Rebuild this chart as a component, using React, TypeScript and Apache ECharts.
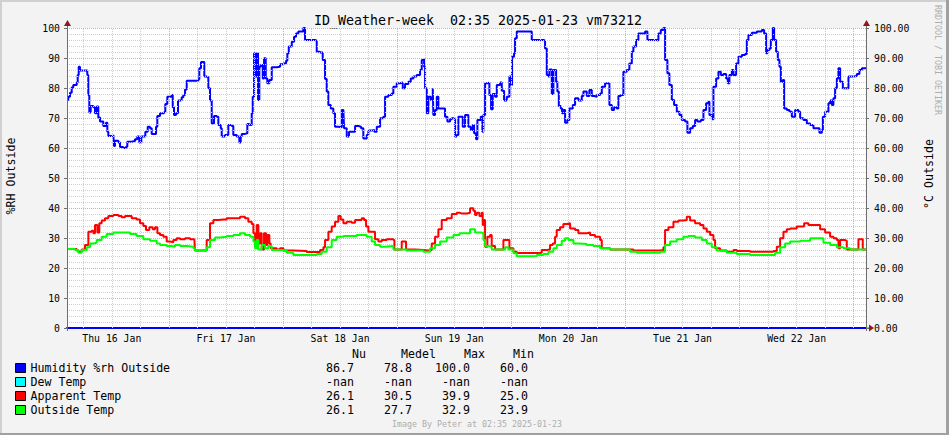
import React, { useEffect, useRef } from 'react';
import * as echarts from 'echarts';

// Graph covers one week, starting 02:35 Thu 16 Jan 2025 (x values: hours since start)
const GRAPH_START_CLOCK = 2 + 35 / 60;
const GRAPH_HOURS = 168;

const dayLabels = ['Thu 16 Jan', 'Fri 17 Jan', 'Sat 18 Jan', 'Sun 19 Jan', 'Mon 20 Jan', 'Tue 21 Jan', 'Wed 22 Jan'];

const humidity: [number, number][] = [
  [0,76],[0.27,77.1],[0.63,78.4],[0.99,80.2],[1.32,81],[2.04,81.8],[2.25,84.3],[2.46,87.1],[2.73,85.8],[4.0,85.8],[4.27,84.3],[4.48,77.7],[4.69,71.8],[4.98,74],[5.53,73.6],[5.89,71.6],[6.25,73.8],[6.58,70.2],[6.94,68.8],[7.63,67.3],[8.2,68.4],[8.48,65.4],[8.69,64],[9.74,64.4],[9.88,60.7],[10.09,62.4],[10.79,61.8],[11.15,60.3],[11.84,60],[12.41,60.4],[12.68,62.1],[13.61,62.3],[14.3,62.9],[14.78,63.8],[15.2,61.8],[15.63,63.8],[16.19,63.8],[16.47,65.4],[16.97,67.1],[17.45,66.6],[17.81,64.7],[18.51,64.7],[18.72,67.1],[18.99,70.7],[19.56,71.6],[20.4,71.9],[20.67,74.7],[21.09,77.1],[22.02,77.7],[22.23,73.6],[22.5,71],[22.92,71.6],[23.34,75.8],[23.76,76],[24.12,76.9],[24.46,77.7],[24.82,79.5],[25.17,82.4],[27.61,82.9],[27.82,86.6],[28.18,88.7],[28.66,88.7],[28.87,83.8],[29.38,83.6],[29.72,79.9],[30.07,75.8],[30.43,68.2],[30.91,70.7],[31.48,70.4],[31.82,67.7],[32.32,66.6],[32.53,63.8],[33.23,64.3],[33.92,67.7],[34.64,67.3],[34.97,64.3],[35.69,63.8],[36.24,61.8],[36.53,63.8],[36.74,64.7],[37.43,64.9],[37.92,68],[38.34,67.7],[38.84,71.6],[39.05,77.1],[39.33,91.6],[39.6,83.8],[39.89,91.6],[40.17,76],[40.44,87.1],[40.74,87.7],[41.16,83.2],[41.43,89.9],[41.79,83.2],[42.12,81.6],[42.54,82.7],[43.05,86.9],[44.1,87.1],[44.79,87.9],[45.49,88.2],[46.06,89.1],[46.33,91.6],[46.63,93.8],[47.26,95.4],[47.74,97.1],[48.16,98.2],[48.64,98.8],[49.36,98.8],[49.69,100],[50.05,96],[52.15,95.8],[52.51,92.1],[53.21,91.8],[53.77,89.3],[54.26,83],[54.61,78.8],[54.95,74.3],[55.46,73.2],[56,71.6],[56.36,67.1],[57.05,66.9],[57.77,72.7],[58.11,72.7],[58.25,66.6],[58.82,63.8],[59.3,65.4],[59.87,65.4],[60.57,67.3],[61.26,67.1],[61.83,66.6],[62.31,63.2],[63.03,64.3],[63.36,65.8],[64.08,66],[64.63,65.4],[65.13,67.1],[65.83,69.9],[66.52,70.4],[66.88,77.1],[67.57,77.7],[68.29,78.2],[68.62,80.4],[69.34,81.6],[70.03,81.8],[70.6,79.9],[71.08,81.3],[71.78,82.1],[72.28,83.2],[72.83,83.8],[73.54,84.3],[74.24,86],[74.59,89.3],[74.93,89.6],[75.08,87.1],[75.29,79.9],[75.65,71.6],[75.98,77.1],[76.49,76],[76.91,79.9],[77.03,71],[77.39,72.7],[77.75,77.1],[78.09,73.2],[78.8,73.2],[79.49,70.4],[79.98,68.8],[80.54,69.6],[80.9,69.9],[81.6,63.8],[81.95,64.3],[82.29,70.4],[83,70.4],[83.21,67.1],[83.7,71],[84.06,71],[84.39,67.1],[84.9,66],[85.32,67.7],[85.59,64.9],[86.01,62.9],[86.29,69.3],[87,70.4],[87.34,65.4],[87.55,71],[87.91,81.6],[88.39,81.8],[88.81,77.7],[89.17,72.9],[89.52,78],[90.01,77.1],[90.37,81],[91.06,81.8],[91.42,79.1],[91.9,75.8],[92.47,77.1],[93.02,83.8],[93.37,81],[93.58,90.4],[94,91.6],[94.21,96.6],[94.57,98.8],[97.37,98.8],[97.72,96],[100.17,95.8],[100.52,93.2],[100.88,84.3],[101.22,83.8],[101.43,86.2],[101.93,78],[102.27,86],[102.63,86],[102.84,82.1],[103.11,78.8],[103.41,74],[103.83,73.2],[104.1,71.6],[104.37,72.7],[104.73,68.4],[105.21,69.3],[105.63,73.2],[106.35,74.3],[106.83,76.6],[107.53,75.8],[108.24,77.3],[108.58,78.8],[109.29,77.3],[109.84,79.3],[110.34,77.3],[110.83,77.1],[111.4,77.7],[112.09,78.2],[112.45,80.4],[113.14,81.6],[113.5,81.6],[114.05,74.3],[114.55,72.7],[115.03,73.6],[115.6,73.2],[115.94,77.3],[116.44,77.7],[116.99,85.4],[117.7,86],[118.25,88.2],[118.76,92.1],[119.09,93.8],[119.66,96],[120.14,98.2],[121.55,98.8],[122.04,96],[124.01,95.8],[124.35,98.2],[124.85,99.3],[125.4,100],[125.76,89.3],[126.24,84.9],[126.66,81],[127.17,76],[127.65,74.3],[128.22,72.1],[128.77,71],[129.27,69.3],[129.96,68.8],[130.45,65.1],[131.02,66.6],[131.58,67.3],[132.07,69.3],[132.55,68.8],[133.27,69.3],[133.82,72.7],[134.38,74.9],[134.87,75.4],[135.08,71],[135.58,69.6],[135.92,80.4],[136.49,83.2],[136.97,85.4],[137.48,84.3],[138.02,84.7],[138.59,83.2],[138.95,81.6],[139.28,84.3],[139.79,86],[140.13,84.3],[140.69,88.2],[141.18,90.4],[141.89,91],[142.58,91.3],[142.94,96],[143.28,97.7],[143.99,98.4],[145.05,98.8],[146.1,99.3],[146.58,98.2],[147,91.6],[147.27,92.7],[147.69,93.2],[147.99,96],[148.41,100],[148.68,96],[149.1,92.1],[149.46,89.3],[149.8,87.1],[150.09,82.1],[150.51,82.7],[150.79,73.2],[151.35,72.7],[151.9,72.1],[152.41,70.4],[153.1,72.7],[153.79,72.1],[154.15,69.9],[154.85,69.3],[155.56,68.2],[156.25,67.7],[156.95,66.6],[157.66,66.6],[158.21,65.1],[158.72,66],[158.93,70.4],[159.41,72.1],[160.1,74.9],[160.46,75.8],[160.82,74.3],[161.15,76.6],[161.51,79.9],[161.87,83.2],[162.2,86.6],[162.56,82.1],[163.13,79.9],[163.97,79.9],[164.31,83.8],[165.36,84],[166.07,84.7],[166.62,86],[167.13,86.6],[167.82,86.7],[168,86.7]
];

const dewTemp: [number, number][] = []; // -nan for the whole period

const apparentTemp: [number, number][] = [
  [0,26.3],[2.03,25.8],[2.38,25.4],[3.08,26.2],[3.79,27.7],[4.49,32.1],[5.19,32.4],[5.54,31.6],[5.89,34.3],[6.38,31.8],[6.8,34.9],[7.29,35.8],[7.99,36.6],[8.69,37.3],[9.74,37.7],[10.8,37.3],[11.5,36.9],[12.2,37.3],[12.9,37.3],[13.6,36.6],[14.65,36.2],[15.35,34.9],[16.05,34],[16.61,32.7],[17.31,33.6],[18.02,32.9],[18.51,33.6],[19,31.6],[19.56,31],[20.26,30.4],[20.96,28.8],[21.66,28.6],[22.36,29.3],[23.06,29.9],[23.76,29.6],[24.82,29.9],[25.87,29.6],[26.78,29.6],[26.92,25.8],[29.02,25.8],[29.37,29.3],[30.07,34.9],[30.77,36],[31.83,36.2],[32.88,36.2],[33.58,36.6],[34.98,36.6],[36.38,37.1],[37.43,36.6],[38.13,35.4],[38.84,34.7],[39.19,31.6],[39.54,27.1],[39.89,34.3],[40.24,28.2],[40.59,31.6],[40.94,26.2],[41.43,31.6],[41.85,27.7],[42.13,31],[42.55,28.2],[42.83,26.6],[44.09,26.2],[44.79,26.6],[45.49,25.8],[47.6,25.7],[50.4,25.3],[52.51,25.3],[53.21,26],[53.91,26.9],[54.26,29.3],[54.96,32.1],[55.66,33.8],[56.36,35.4],[57.06,37.3],[57.55,36.2],[58.11,34.9],[58.81,35.4],[59.87,35.1],[60.57,36],[61.27,36],[61.97,36.6],[62.46,36],[62.88,33.8],[63.37,32.1],[64.07,32.1],[64.77,29.6],[65.47,28.8],[66.18,29.3],[67.23,29.6],[68.63,29.3],[68.84,26.2],[70.03,26.2],[70.38,28.8],[71.08,28.8],[71.29,26.2],[73.19,26],[74.94,25.8],[75.99,26],[76.69,28.2],[77.39,30.4],[78.09,32.9],[78.79,36],[79.84,36.6],[80.9,38],[81.95,38.4],[82.51,38.2],[83.0,38.2],[84.05,38.4],[84.75,39.9],[85.45,39.1],[85.8,37.7],[86.15,38.4],[86.71,37.3],[87.2,38.4],[87.41,34.3],[87.69,36],[87.9,27.1],[88.39,30.4],[88.95,31],[89.3,27.3],[90,26.2],[91.41,26.2],[91.76,29.3],[92.6,29.3],[93.02,26.6],[93.86,25.4],[94.56,25],[96.66,25],[98.77,25.1],[99.82,26],[100.87,26.2],[101.57,27.7],[102.13,28.2],[102.62,30.4],[102.97,32.7],[103.67,33.6],[104.37,34.7],[105.08,34.9],[105.78,33.2],[106.83,32.7],[107.53,31.6],[108.58,31.6],[109.28,31.8],[109.98,31],[111.03,30.4],[112.09,29.3],[112.44,26.6],[114.19,26.2],[117.69,26.2],[119.1,25.8],[122.6,25.8],[124.7,26],[125.4,26.9],[125.75,32.7],[126.46,33.6],[127.51,35.4],[128.56,35.8],[129.61,36],[130.31,37.1],[131.01,35.8],[132.06,34.9],[133.12,34.3],[133.82,33.2],[134.52,32.1],[135.22,31],[135.92,29.3],[136.27,26.6],[137.32,25.8],[138.72,25.4],[140.13,26],[140.83,25.7],[143.63,25.4],[147.14,25.4],[148.54,25.7],[149.24,27.1],[149.94,29.9],[150.64,32.1],[151.34,32.9],[152.04,33.2],[153.44,33.8],[154.5,33.8],[154.99,34.9],[155.9,34.3],[158,34.3],[158.35,32.9],[159.4,31.8],[160.45,30.4],[161.16,29.9],[161.86,29.3],[162.21,26.6],[162.56,29.3],[163.61,29.1],[163.96,26.2],[166.06,26.2],[166.41,29.6],[166.9,29.6],[167.32,26.2],[168,26.1]
];

const outsideTemp: [number, number][] = [
  [0,26.3],[1.68,26],[2.38,25.1],[3.08,26],[4.14,26.9],[4.84,28.2],[5.54,28.4],[6.24,29.3],[7.29,30.4],[8.34,31.3],[9.74,31.8],[11.85,31.8],[13.25,31.3],[14.65,30.7],[16.05,29.6],[17.46,29.1],[18.86,28.2],[19.56,27.7],[20.96,27.3],[22.01,27.1],[22.71,27.7],[23.76,27.3],[25.17,27.1],[26.57,26.6],[26.92,25.8],[28.67,26],[29.37,26.9],[30.07,29.3],[31.12,30.2],[32.18,30.4],[33.58,30.7],[34.98,31],[36.38,31.6],[37.43,31],[38.48,30.4],[39.19,28.8],[39.54,26.6],[39.89,29.3],[40.24,26.2],[40.94,27.7],[41.64,26.6],[42.34,27.3],[43.04,26],[44.79,25.8],[46.2,25.1],[47.6,24.3],[50.4,24.3],[52.51,24.7],[53.56,25.4],[54.61,26.9],[55.66,29.3],[56.71,30.4],[58.11,30.7],[59.52,30.7],[60.92,31],[62.32,31],[63.02,30.4],[64.07,28.8],[64.77,27.7],[65.82,27.1],[66.88,27.3],[68.63,26.2],[70.03,26.2],[71.43,25.8],[73.54,25.8],[74.94,25.4],[76.34,26.6],[77.39,27.7],[78.44,28.8],[79.84,30.2],[81.25,31],[82.51,31.6],[83.34,31.6],[84.75,32.9],[85.8,31.8],[87.2,31.6],[87.55,29.3],[87.9,27.3],[88.6,27.1],[89.3,26.2],[91.06,26.2],[92.11,26.9],[92.81,26.2],[93.86,24.9],[94.56,23.9],[97.36,24],[98.77,24.3],[100.17,24.7],[101.22,25.4],[102.27,26.6],[102.97,27.7],[104.02,29.1],[104.72,29.9],[105.43,29.3],[106.48,28.2],[107.88,28],[109.28,27.7],[110.68,27.3],[112.09,26.6],[114.19,26.2],[117.34,26.2],[118.39,25.4],[119.8,25.1],[122.6,25.1],[124.7,25.4],[125.75,27.7],[126.81,28.8],[128.21,29.6],[129.61,30.4],[130.66,30.7],[132.06,30.2],[133.47,29.3],[134.52,28.2],[135.57,26.9],[136.62,25.8],[138.72,25.1],[140.83,24.7],[143.63,24.3],[147.14,24.3],[148.89,25.1],[149.94,26.9],[150.99,28.2],[152.04,28.8],[154.15,29.1],[156.25,29.9],[158,29.9],[159.05,28.4],[160.45,27.7],[161.86,26.9],[163.26,26.6],[164.66,26.2],[166.76,26.2],[168,26.1]
];

const seriesNames = ['Humidity %rh Outside', 'Dew Temp', 'Apparent Temp', 'Outside Temp'];
const seriesColors = ['#0000FF', '#00FFFF', '#FF0000', '#00FF00'];

const statHeaders = ['Nu', 'Medel', 'Max', 'Min'];
const statRows = [
  ['86.7', '78.8', '100.0', '60.0'],
  ['-nan', '-nan', '-nan', '-nan'],
  ['26.1', '30.5', '39.9', '25.0'],
  ['26.1', '27.7', '32.9', '23.9'],
];

const titleText = 'ID_Weather-week  02:35 2025-01-23 vm73212';
const footerText = 'Image By Peter at 02:35 2025-01-23';
const watermarkText = 'RRDTOOL / TOBI OETIKER';
const leftAxisName = '%RH Outside';
const rightAxisName = '°C Outside';
const yRange = { min: 0, max: 100, interval: 10 };
const yMinorStep = 2;

const MONO = "'DejaVu Sans Mono', monospace";
const MAJOR_GRID = '#F0A0A0';
const MINOR_GRID = '#CFCFCF';

export default function App() {
  const ref = useRef<HTMLDivElement>(null);
  useEffect(() => {
    document.body.style.margin = '0';
    const chart = echarts.init(ref.current!, null, { renderer: 'svg' });

    const minorLines: any[] = [];
    const majorLines: any[] = [];
    for (let clock = 6; clock < 24 * 8; clock += 6) {
      const t = clock - GRAPH_START_CLOCK;
      if (t <= 0 || t >= GRAPH_HOURS) continue;
      (clock % 24 === 0 ? majorLines : minorLines).push({ xAxis: t });
    }
    for (let v = yRange.min + yMinorStep; v <= yRange.max; v += yMinorStep) {
      (v % yRange.interval === 0 ? majorLines : minorLines).push({ yAxis: v });
    }
    const noonTicks = dayLabels.map((_, i) => 12 + 24 * i - GRAPH_START_CLOCK);

    const L = 67, R = 866, T = 28, B = 328;
    const axisGray = '#6E6E6E';
    const arrowRed = '#8B1A1A';

    const gridSeries = (name: string, lines: any[], color: string, z: number) => ({
      name,
      type: 'line',
      data: [],
      yAxisIndex: 0,
      z,
      silent: true,
      markLine: {
        silent: true,
        symbol: ['none', 'none'],
        label: { show: false },
        animation: false,
        lineStyle: { color, type: [1, 1], width: 1, opacity: 1 },
        emphasis: { disabled: true },
        data: lines,
      },
    });

    const lineSeries = (idx: number, data: [number, number][], yAxisIndex: number) => ({
      name: seriesNames[idx],
      type: 'line',
      data,
      yAxisIndex,
      step: 'end',
      showSymbol: false,
      symbol: 'none',
      z: 3 + idx,
      color: seriesColors[idx],
      itemStyle: { color: seriesColors[idx] },
      lineStyle: { color: seriesColors[idx], width: 2 },
      silent: true,
    });

    const graphic: any[] = [
      // 3D frame
      { type: 'rect', shape: { x: 0, y: 0, width: 949, height: 2 }, style: { fill: '#D0D0D0' }, silent: true },
      { type: 'rect', shape: { x: 0, y: 0, width: 2, height: 435 }, style: { fill: '#D0D0D0' }, silent: true },
      { type: 'rect', shape: { x: 946, y: 0, width: 3, height: 435 }, style: { fill: '#A0A0A0' }, silent: true },
      { type: 'rect', shape: { x: 0, y: 433, width: 949, height: 2 }, style: { fill: '#A0A0A0' }, silent: true },
      // axis extensions and arrows
      { type: 'line', shape: { x1: L + 0.5, y1: 22, x2: L + 0.5, y2: B + 3 }, style: { stroke: axisGray, lineWidth: 1 }, z: 10 },
      { type: 'line', shape: { x1: R + 0.5, y1: 22, x2: R + 0.5, y2: B + 3 }, style: { stroke: axisGray, lineWidth: 1 }, z: 10 },
      { type: 'polygon', shape: { points: [[L - 3, 26], [L + 4, 26], [L + 0.5, 20]] }, style: { fill: arrowRed }, z: 11 },
      { type: 'polygon', shape: { points: [[R - 3, 26], [R + 4, 26], [R + 0.5, 20]] }, style: { fill: arrowRed }, z: 11 },
      { type: 'line', shape: { x1: R, y1: B, x2: R + 4, y2: B }, style: { stroke: axisGray, lineWidth: 1 }, z: 10 },
      { type: 'polygon', shape: { points: [[R + 3, B - 3.5], [R + 3, B + 3.5], [R + 8, B]] }, style: { fill: arrowRed }, z: 11 },
      // title
      {
        type: 'text', x: 478, y: 20,
        style: { text: titleText, fill: '#000', font: `13.3px ${MONO}`, align: 'center', verticalAlign: 'middle' },
      },
      // vertical axis titles (read bottom to top)
      {
        type: 'text', x: 11, y: 176, rotation: Math.PI / 2,
        style: { text: leftAxisName, fill: '#000', font: `11.6px ${MONO}`, align: 'center', verticalAlign: 'middle' },
      },
      {
        type: 'text', x: 929, y: 174, rotation: Math.PI / 2,
        style: { text: rightAxisName, fill: '#000', font: `11.6px ${MONO}`, align: 'center', verticalAlign: 'middle' },
      },
      // watermark
      {
        type: 'text', x: 938, y: 5, rotation: -Math.PI / 2,
        style: { text: watermarkText, fill: '#ADADAD', font: `8.3px ${MONO}`, align: 'left', verticalAlign: 'middle' },
      },
      // footer
      {
        type: 'text', x: 477, y: 424,
        style: { text: footerText, fill: '#ADADAD', font: `8.3px ${MONO}`, align: 'center', verticalAlign: 'middle' },
      },
    ];

    const headerX = [352, 401, 464, 513];
    statHeaders.forEach((h, i) => {
      graphic.push({
        type: 'text', x: headerX[i], y: 354,
        style: { text: h, fill: '#000', font: `11.6px ${MONO}`, align: 'left', verticalAlign: 'middle' },
      });
    });
    const colRight = [354, 412, 470, 528];
    statRows.forEach((row, r) => {
      row.forEach((v, c) => {
        graphic.push({
          type: 'text', x: colRight[c], y: 368 + 14 * r,
          style: { text: v, fill: '#000', font: `11.6px ${MONO}`, align: 'right', verticalAlign: 'middle' },
        });
      });
    });

    const option: any = {
      animation: false,
      backgroundColor: '#F3F3F3',
      textStyle: { fontFamily: MONO },
      grid: {
        left: L, right: 949 - R, top: T, bottom: 435 - B,
        show: true, backgroundColor: '#FFFFFF', borderWidth: 0,
        containLabel: false,
      },
      legend: {
        orient: 'vertical',
        left: 15,
        top: 361,
        padding: 0,
        itemGap: 0,
        itemWidth: 10,
        itemHeight: 9,
        icon: 'rect',
        selectedMode: false,
        itemStyle: { borderColor: '#000', borderWidth: 1 },
        textStyle: { fontFamily: MONO, fontSize: 11.6, color: '#000', lineHeight: 14 },
        data: seriesNames,
      },
      xAxis: {
        type: 'value',
        min: 0,
        max: GRAPH_HOURS,
        axisLine: { show: true, lineStyle: { color: '#0000FF', width: 2 } },
        axisTick: { show: false },
        splitLine: { show: false },
        axisLabel: {
          customValues: noonTicks,
          fontFamily: MONO,
          fontSize: 9.8,
          color: '#000',
          margin: 5,
          formatter: (v: number) => dayLabels[Math.round((v + GRAPH_START_CLOCK - 12) / 24)] ?? '',
        },
      },
      yAxis: [
        {
          type: 'value',
          position: 'left',
          ...yRange,
          axisLine: { show: true, lineStyle: { color: axisGray } },
          axisTick: { show: true, length: 3, lineStyle: { color: axisGray } },
          axisLabel: { fontFamily: MONO, fontSize: 9.8, color: '#000', margin: 7, formatter: (v: number) => String(v) },
          splitLine: { show: false },
        },
        {
          type: 'value',
          position: 'right',
          ...yRange,
          axisLine: { show: true, lineStyle: { color: axisGray } },
          axisTick: { show: true, length: 3, lineStyle: { color: axisGray } },
          axisLabel: { fontFamily: MONO, fontSize: 9.8, color: '#000', margin: 8, formatter: (v: number) => v.toFixed(2) },
          splitLine: { show: false },
        },
      ],
      series: [
        gridSeries('__minorGrid', minorLines, MINOR_GRID, 1),
        gridSeries('__majorGrid', majorLines, MAJOR_GRID, 2),
        lineSeries(0, humidity, 0),
        lineSeries(1, dewTemp, 1),
        lineSeries(2, apparentTemp, 1),
        lineSeries(3, outsideTemp, 1),
      ],
      graphic,
    };

    chart.setOption(option);
    return () => chart.dispose();
  }, []);
  return <div ref={ref} style={{ width: 949, height: 435 }} />;
}
